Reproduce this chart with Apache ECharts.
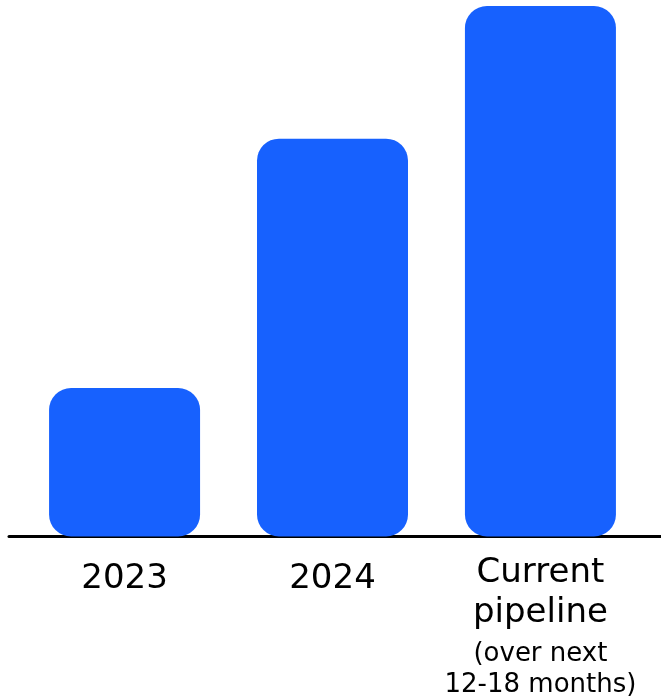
<!DOCTYPE html>
<html>
<head>
<meta charset="utf-8">
<script src="https://cdn.jsdelivr.net/npm/echarts@6/dist/echarts.min.js"></script>
<style>
html,body{margin:0;padding:0;background:#fff;}
#chart{width:661px;height:698px;}
</style>
</head>
<body>
<div id="chart"></div>
<script>
const categories = ['2023', '2024', 'Current pipeline'];
const values = [28, 75, 100];
const subLabel = ['(over next', '12-18 months)'];

const chart = echarts.init(document.getElementById('chart'), null, {renderer: 'canvas'});
const FONT = '"DejaVu Sans", sans-serif';

function fmt(v) {
  if (v === 'Current pipeline') {
    const main = v.split(' ').map(w => '{a|' + w + '}').join('\n');
    return main + '\n{b1|' + subLabel[0] + '}\n{b2|' + subLabel[1] + '}';
  }
  return '{c|' + v + '}';
}

chart.setOption({
  animation: false,
  backgroundColor: '#ffffff',
  grid: [
    {left: 20.6, right: 16.6, top: 6, bottom: 161.5},
    {left: 9, right: 0, top: 6, bottom: 161.5}
  ],
  xAxis: [
    {
      type: 'category',
      gridIndex: 0,
      data: categories,
      axisLine: {show: false},
      axisTick: {show: false},
      axisLabel: {
        interval: 0,
        margin: 16.5,
        color: '#000',
        formatter: fmt,
        rich: {
          a: {fontFamily: FONT, fontSize: 34, lineHeight: 40, color: '#000'},
          b1: {fontFamily: FONT, fontSize: 26, lineHeight: 42, color: '#000'},
          b2: {fontFamily: FONT, fontSize: 26, lineHeight: 20, color: '#000'},
          c: {fontFamily: FONT, fontSize: 34, lineHeight: 53, color: '#000'}
        }
      }
    },
    {
      type: 'category',
      gridIndex: 1,
      data: [''],
      axisLine: {show: true, lineStyle: {color: '#000', width: 3}},
      axisTick: {show: false},
      axisLabel: {show: false}
    }
  ],
  yAxis: [
    {type: 'value', gridIndex: 0, min: 0, max: 100, show: false},
    {type: 'value', gridIndex: 1, min: 0, max: 100, show: false}
  ],
  series: [{
    type: 'bar',
    xAxisIndex: 0,
    yAxisIndex: 0,
    data: values,
    barWidth: 151,
    itemStyle: {color: '#1761FE', borderRadius: 22},
    label: {show: false}
  }]
});
</script>
</body>
</html>
